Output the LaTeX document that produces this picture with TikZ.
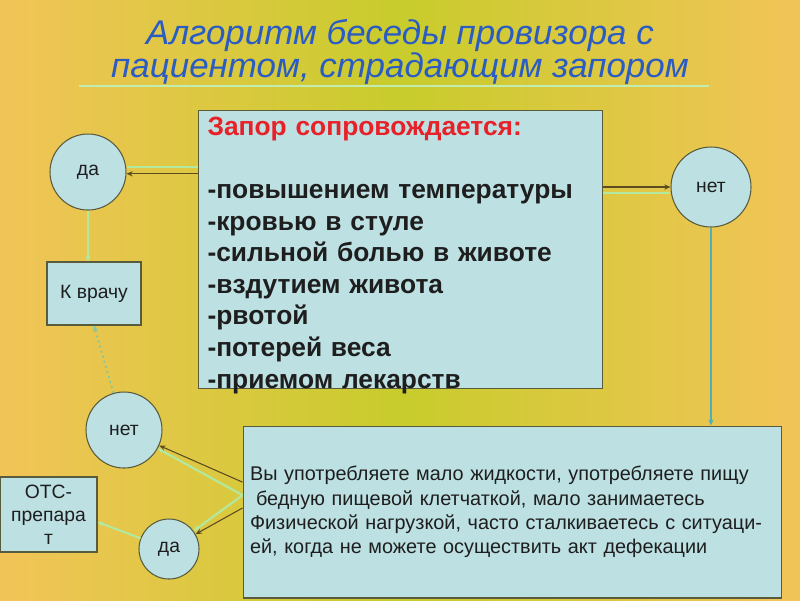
\documentclass[tikz,border=0pt]{standalone}
\usepackage{fontspec}
\setmainfont{Liberation Sans}
\newfontfamily\headfont[FakeStretch=1.02]{Liberation Sans}
\usetikzlibrary{positioning,calc,arrows.meta}
\definecolor{slidemid}{RGB}{200,204,44}
\definecolor{slideedge}{RGB}{242,196,88}
\definecolor{boxfill}{RGB}{189,224,227}
\definecolor{boxline}{RGB}{88,92,60}
\definecolor{headblue}{RGB}{42,92,196}
\definecolor{headred}{RGB}{232,32,40}
\definecolor{palegreen}{RGB}{178,232,160}
\definecolor{darkarrow}{RGB}{92,74,32}
\definecolor{tealline}{RGB}{80,176,184}
\definecolor{txtgray}{RGB}{30,30,30}

\begin{document}
\begin{tikzpicture}[x=0.02cm,y=-0.02cm,font=\fontsize{11}{13}\selectfont]
  \tikzset{
    card/.style={draw=boxline,fill=boxfill,line width=0.6pt,text=txtgray,inner sep=0pt},
    answer/.style={card,circle},
    darklink/.style={draw=darkarrow,line width=0.6pt,-{Stealth[length=3.5pt,width=3pt]}},
    palelink/.style={draw=palegreen,line width=1.2pt},
    palearrow/.style={palelink,-{Stealth[length=3.5pt,width=3pt]}},
    teallink/.style={draw=tealline,line width=0.7pt,-{Stealth[length=3.5pt,width=3pt]}},
  }
  % ---- background ----
  \shade[left color=slideedge,right color=slideedge,middle color=slidemid]
        (0,0) rectangle (800,600);
  \useasboundingbox (0,0) rectangle (800,600);
  % ---- title ----
  \node[align=center,text=headblue,font=\headfont\itshape\fontsize{19.5}{18.5}\selectfont]
       (title) at (400,52) {Алгоритм беседы провизора с\\пациентом, страдающим запором};
  \draw[palegreen!80!white,line width=0.9pt] (79,86) -- (709,86);
  % ---- main question ----
  \node[card,anchor=north west,minimum width=8.08cm,minimum height=5.56cm,
        text width=7.72cm,inner xsep=0.18cm,align=left,
        font=\fontsize{15}{18}\selectfont\bfseries] (main) at (198,110)
       {\rule{0pt}{13.8pt}{\color{headred}Запор сопровождается:}\\[18pt]
        -повышением температуры\\
        -кровью в стуле\\
        -сильной болью в животе\\
        -вздутием живота\\
        -рвотой\\
        -потерей веса\\
        \smash{-приемом лекарств}};
  % ---- answers ----
  \node[answer,minimum size=1.52cm] (da1) at (88,172) {да};
  \node[answer,minimum size=1.6cm] (net1) at (711,187) {нет};
  \node[card,minimum width=1.88cm,minimum height=1.26cm] (vrach) at (94,293.5) {К врачу};
  \node[answer,minimum size=1.52cm] (net2) at (124,430) {нет};
  \node[card,minimum width=1.94cm,minimum height=1.5cm,align=center] (otc) at (48.5,514.5)
       {ОТС-\\препара\\т};
  \node[answer,minimum size=1.2cm] (da2) at (169,549) {да};
  % ---- second question ----
  \node[card,minimum width=10.78cm,minimum height=3.44cm,text width=10.5cm,
        inner xsep=0.14cm,align=left,font=\fontsize{11.3}{13.8}\selectfont] (quest) at (512.5,512)
       {Вы употребляете мало жидкости, употребляете пищу\\
        \hspace{0.3em}бедную пищевой клетчаткой, мало занимаетесь\\
        Физической нагрузкой, часто сталкиваетесь с ситуаци-\\
        ей, когда не можете осуществить акт дефекации};
  % ---- connectors ----
  \coordinate (mL) at (main.west |- da1.east);
  \coordinate (mR) at (main.east |- net1.west);
  \draw[palelink] ([yshift=3pt]mL) -- ([yshift=3pt]da1.east);
  \draw[darklink] ([yshift=-1pt]mL) -- ([yshift=-1pt]da1.east);
  \draw[palelink] ([yshift=-3.4pt]mR) -- ([yshift=-3.4pt]net1.west);
  \draw[darklink] (mR) -- (net1.west);
  \draw[teallink] (net1.south) -- (net1.south |- quest.north);
  \draw[palearrow] (da1.south) -- (da1.south |- vrach.north);
  \draw[draw=tealline!60!palegreen,line width=1pt,dotted,-{Stealth[length=3.5pt,width=3pt]}]
       (net2) -- (vrach.south);
  \coordinate (qA) at ([yshift=17pt]quest.west);
  \coordinate (qB) at ([yshift=9.6pt]quest.west);
  \coordinate (qC) at ([yshift=2.3pt]quest.west);
  \draw[palearrow] (qB) -- (net2);
  \draw[palearrow] (qB) -- (da2);
  \draw[darklink] (qA) -- (net2);
  \draw[darklink] (qC) -- (da2);
  \draw[palearrow] (da2) -- ([yshift=-4.3pt]otc.east);
\end{tikzpicture}
\end{document}
